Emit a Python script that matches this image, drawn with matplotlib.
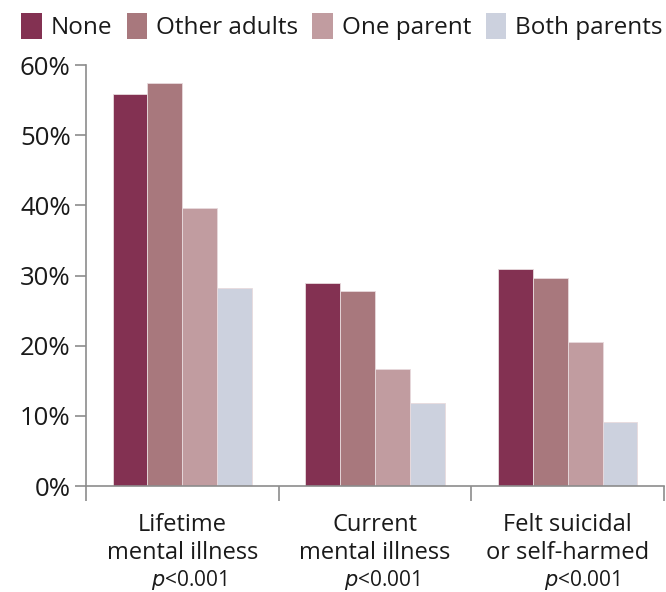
import numpy as np
import matplotlib
matplotlib.use('Agg')
import matplotlib.pyplot as plt
from matplotlib.patches import Patch

plt.rcParams['font.family'] = ['Open Sans', 'DejaVu Sans']

# data
groups = ['Lifetime\nmental illness', 'Current\nmental illness', 'Felt suicidal\nor self-harmed']
pvals = ['$p$<0.001', '$p$<0.001', '$p$<0.001']
series = ['None', 'Other adults', 'One parent', 'Both parents']
none_vals = [55.9, 28.9, 30.9]
other_vals = [57.4, 27.8, 29.6]
one_vals = [39.6, 16.7, 20.5]
both_vals = [28.2, 11.8, 9.1]
colors = ['#833152', '#a8787d', '#c19ca0', '#ccd1de']

fig = plt.figure(figsize=(6.66, 5.92), dpi=100)
ax = fig.add_axes([0.129, 0.179, 0.868, 0.711])

centers = np.arange(len(groups)) + 0.5
w = 0.181
all_vals = [none_vals, other_vals, one_vals, both_vals]
for i, (vals, c) in enumerate(zip(all_vals, colors)):
    ax.bar(centers + (i - 1.5) * w, vals, width=w, color=c,
           edgecolor='#e8dadd', linewidth=0.6, zorder=2)

ax.set_xlim(0, 3)
ax.set_ylim(0, 60)
ax.set_yticks(np.arange(0, 61, 10))
ax.set_yticklabels([f'{v}%' for v in range(0, 61, 10)])
ax.set_xticks([0, 1, 2, 3])
ax.set_xticklabels([])

axis_col = '#8c8c8c'
for s in ['top', 'right']:
    ax.spines[s].set_visible(False)
for s in ['left', 'bottom']:
    ax.spines[s].set_color(axis_col)
    ax.spines[s].set_linewidth(1.2)
ax.tick_params(axis='y', length=8, width=1.2, color=axis_col, labelsize=18.5,
               labelcolor='#1a1a1a', pad=3)
ax.tick_params(axis='x', length=11, width=1.2, color=axis_col)

for k, (c, lab, p) in enumerate(zip(centers, groups, pvals)):
    ax.text(c, -7.55, lab, ha='center', va='center', fontsize=17,
            color='#1a1a1a', linespacing=1.2)
    ax.text(c + 0.035 + 0.04 * (k == 2), -13.4, p, ha='center', va='center',
            fontsize=15, color='#1a1a1a')

handles = [Patch(facecolor=c, edgecolor='none') for c in colors]
fig.legend(handles, series, loc='upper left', bbox_to_anchor=(0.012, 1.0),
           ncol=4, frameon=False, fontsize=17.5, handlelength=0.85,
           handleheight=1.25, handletextpad=0.35, columnspacing=0.6,
           borderaxespad=0.15, labelcolor='#1a1a1a')

fig.savefig('out.png', dpi=100)
